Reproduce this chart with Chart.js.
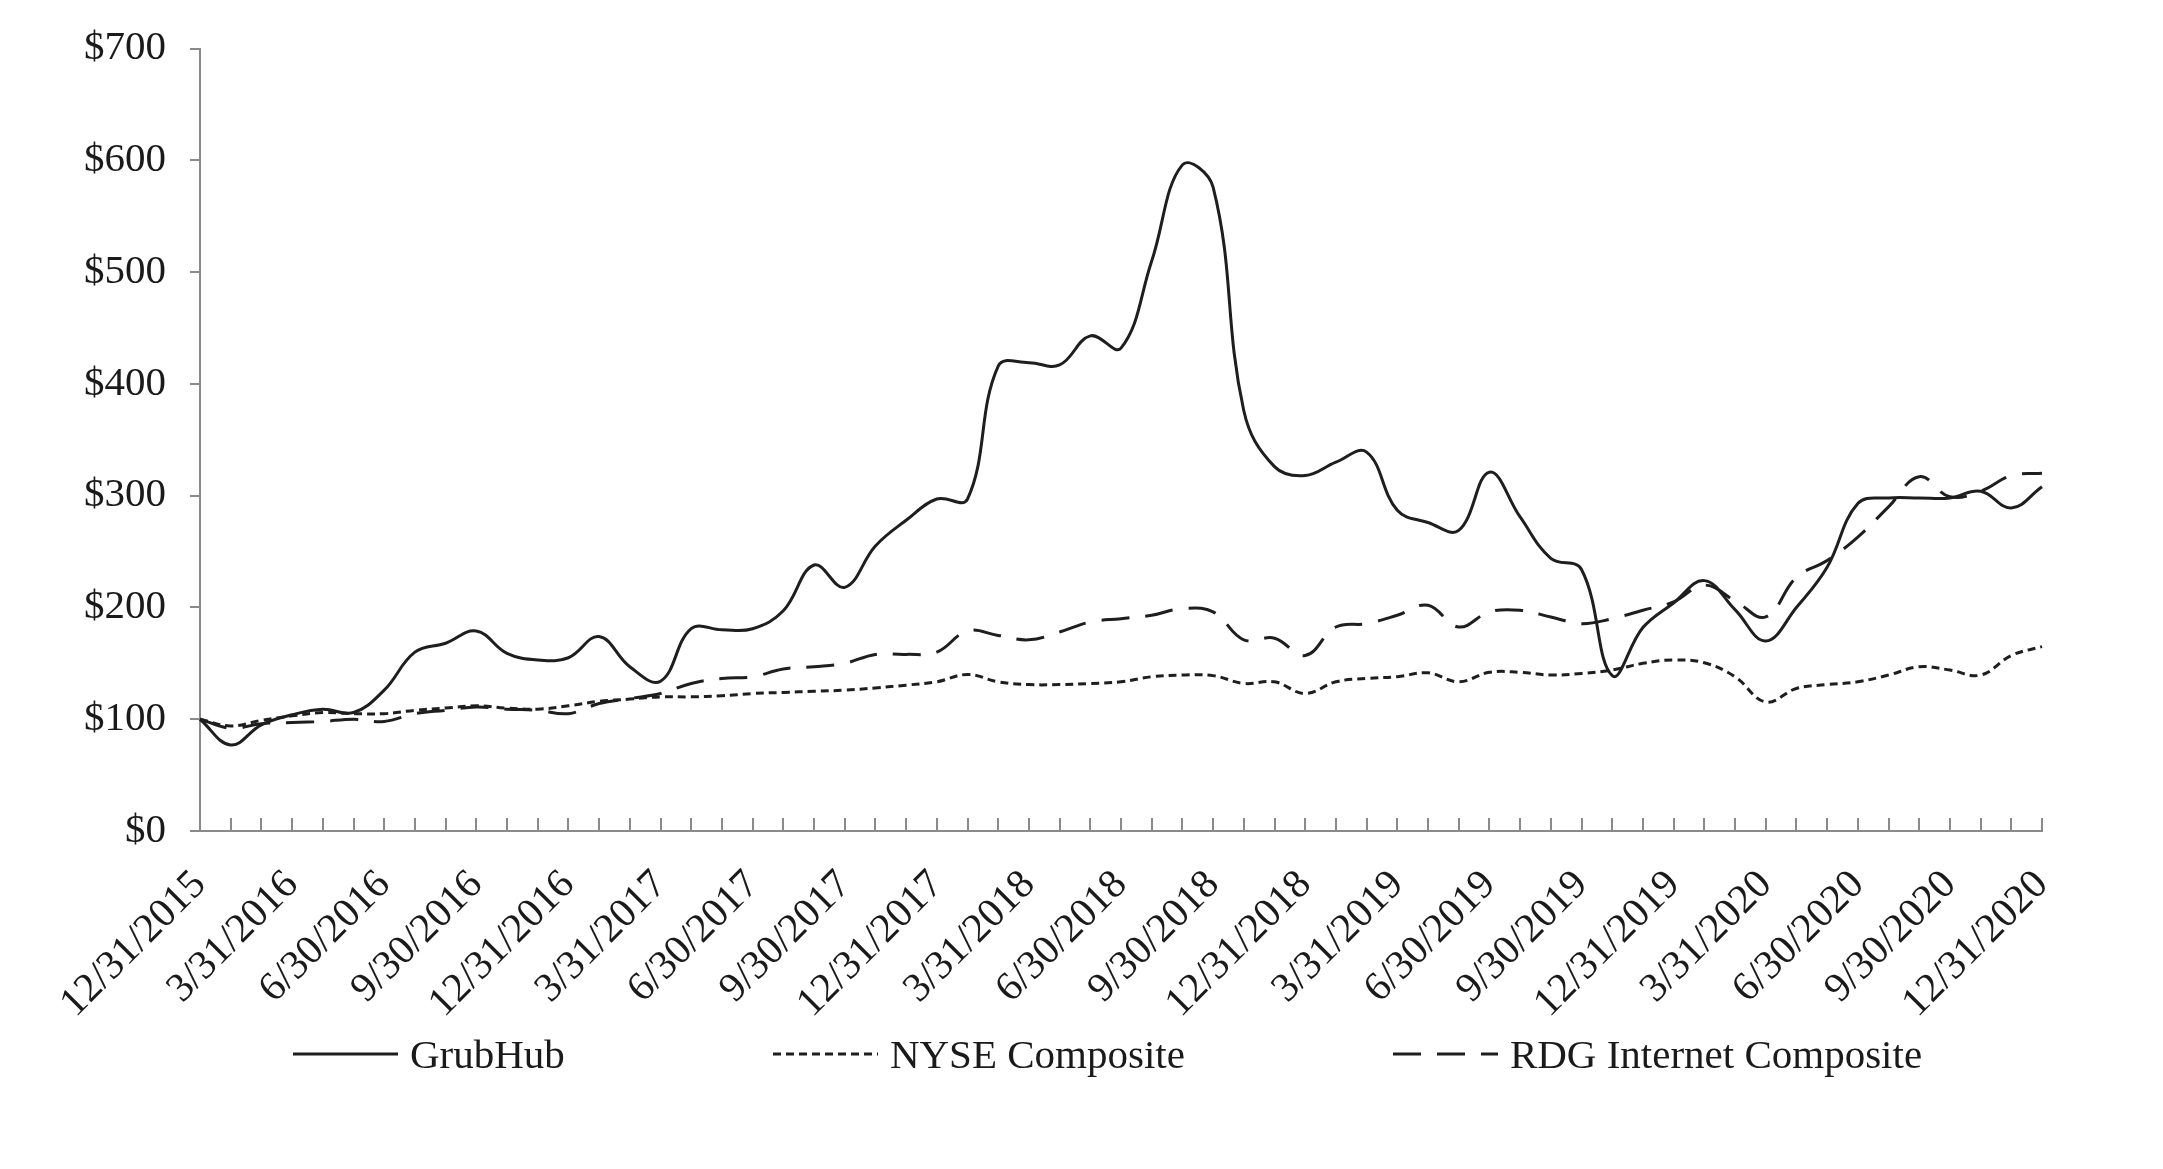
<!DOCTYPE html>
<html><head><meta charset="utf-8">
<script src="https://cdn.jsdelivr.net/npm/chart.js@4.4.0/dist/chart.umd.min.js"></script>
<style>
html,body{margin:0;padding:0;background:#fff;width:2163px;height:1169px;overflow:hidden}
#wrap{position:relative;width:2163px;height:1169px}
canvas{display:block}
#legend{position:absolute;left:293px;top:1030px;display:flex;gap:208px;font-family:"Liberation Serif",serif;font-size:41px;color:#1a1a1a;align-items:center;white-space:nowrap}
.item{display:flex;align-items:center}
.item svg{margin-right:12px;display:block}
</style></head>
<body><div id="wrap"><canvas id="c" width="2163" height="1169"></canvas><div id="legend"></div></div>
<script>
const categories = ["12/31/2015","1/31/2016","2/29/2016","3/31/2016","4/30/2016","5/31/2016","6/30/2016","7/31/2016","8/31/2016","9/30/2016","10/31/2016","11/30/2016","12/31/2016",
"1/31/2017","2/28/2017","3/31/2017","4/30/2017","5/31/2017","6/30/2017","7/31/2017","8/31/2017","9/30/2017","10/31/2017","11/30/2017","12/31/2017",
"1/31/2018","2/28/2018","3/31/2018","4/30/2018","5/31/2018","6/30/2018","7/31/2018","8/31/2018","9/30/2018","10/31/2018","11/30/2018","12/31/2018",
"1/31/2019","2/28/2019","3/31/2019","4/30/2019","5/31/2019","6/30/2019","7/31/2019","8/31/2019","9/30/2019","10/31/2019","11/30/2019","12/31/2019",
"1/31/2020","2/29/2020","3/31/2020","4/30/2020","5/31/2020","6/30/2020","7/31/2020","8/31/2020","9/30/2020","10/31/2020","11/30/2020","12/31/2020"];

const tickLabels = ["12/31/2015","3/31/2016","6/30/2016","9/30/2016","12/31/2016","3/31/2017","6/30/2017","9/30/2017","12/31/2017",
"3/31/2018","6/30/2018","9/30/2018","12/31/2018","3/31/2019","6/30/2019","9/30/2019","12/31/2019","3/31/2020","6/30/2020","9/30/2020","12/31/2020"];

const grubhub = [100,77,95,104,109,106,126,160,168,179,159,153,155,174,147,134,181,180,181,197,238,218,255,278,297,
297,416,419,417,443,432,510,596,576,376,326,318,330,339,287,276,269,321,281,244,234,139,182,204,224,198,170,200,236,293,298,298,298,304,289,308];

const nyse = [100,94,99,103,106,105,105,108,110,112,110,109,112,116,118,120,120,121,123,124,125,126,128,130.5,133.5,
140,133.5,131,131,132,133.5,138,139.5,139,132,133.5,123,133.5,136.5,138,141.5,133.5,142,142,139.5,141,144,150,153,150.5,138,115.5,127.5,131,133.5,139.5,147,144,139.5,157,165];

const rdg = [100,92,96,97,98,100,98,105,108,111,109,108,105,114,118.5,123,132,136.5,138,145,147,150,158,158,160,
179,175,171,178,187,190,193,199,196,171,172.5,157,182.5,185.5,193,202,182.5,196,197.5,191.5,185.5,190,197.5,205,220,206,191.5,227,242,263,290,317,299,304,318,320];

const yTicks = [0,100,200,300,400,500,600,700];
const seriesNames = ["GrubHub","NYSE Composite","RDG Internet Composite"];

const axisColor = '#8a8a8a';
const lineColor = '#1e1e1e';
const fontFamily = '"Liberation Serif", "Times New Roman", serif';

const insideTicks = {
  id: 'insideTicks',
  afterDraw(chart) {
    const xs = chart.scales.x, ctx = chart.ctx, bottom = chart.chartArea.bottom;
    ctx.save();
    ctx.strokeStyle = axisColor; ctx.lineWidth = 2;
    ctx.beginPath();
    xs.ticks.forEach((t, i) => {
      const x = Math.round(xs.getPixelForTick(i));
      ctx.moveTo(x, bottom); ctx.lineTo(x, bottom - 13);
    });
    ctx.stroke();
    ctx.restore();
  }
};

const chart = new Chart(document.getElementById('c'), {
  type: 'line',
  data: {
    labels: categories,
    datasets: [
      {label: seriesNames[0], data: grubhub, borderColor: lineColor, borderWidth: 3, borderDash: []},
      {label: seriesNames[1], data: nyse, borderColor: lineColor, borderWidth: 3, borderDash: [8, 5]},
      {label: seriesNames[2], data: rdg, borderColor: lineColor, borderWidth: 3, borderDash: [28, 16]}
    ]
  },
  options: {
    responsive: false, animation: false,
    layout: {padding: {top: 48, right: 121, bottom: 0, left: 0}},
    plugins: {legend: {display: false}, tooltip: {enabled: false}},
    elements: {point: {radius: 0}, line: {tension: 0.4, fill: false}},
    scales: {
      x: {
        type: 'category', offset: false,
        grid: {display: true, drawOnChartArea: false, drawTicks: false},
        border: {display: true, color: axisColor, width: 2},
        ticks: {
          autoSkip: false, maxRotation: 45, minRotation: 45, padding: 30, color: '#1a1a1a',
          font: {family: fontFamily, size: 41},
          callback(v) { const l = this.getLabelForValue(v); return tickLabels.includes(l) ? l : ''; }
        },
        afterFit(s) { s.paddingLeft = 0; s.paddingRight = 0; s.height = 338; }
      },
      y: {
        min: 0, max: 700,
        afterBuildTicks(s) { s.ticks = yTicks.map(v => ({value: v})); },
        ticks: {padding: 24, color: '#1a1a1a', font: {family: fontFamily, size: 41}, callback: v => '$' + v},
        grid: {display: true, drawOnChartArea: false, drawTicks: true, tickLength: 10, color: axisColor, lineWidth: 2},
        border: {display: true, color: axisColor, width: 2},
        afterFit(s) { s.width = 200; }
      }
    }
  },
  plugins: [insideTicks]
});

// HTML legend built from the chart's datasets
const legend = document.getElementById('legend');
chart.data.datasets.forEach(ds => {
  const item = document.createElement('div'); item.className = 'item';
  const svgNS = 'http://www.w3.org/2000/svg';
  const svg = document.createElementNS(svgNS, 'svg');
  svg.setAttribute('width', '105'); svg.setAttribute('height', '10');
  const ln = document.createElementNS(svgNS, 'line');
  ln.setAttribute('x1', '0'); ln.setAttribute('y1', '5'); ln.setAttribute('x2', '105'); ln.setAttribute('y2', '5');
  ln.setAttribute('stroke', ds.borderColor); ln.setAttribute('stroke-width', ds.borderWidth);
  if (ds.borderDash.length) ln.setAttribute('stroke-dasharray', ds.borderDash.join(' '));
  svg.appendChild(ln);
  const txt = document.createElement('span'); txt.textContent = ds.label;
  item.appendChild(svg); item.appendChild(txt);
  legend.appendChild(item);
});
</script>
</body></html>
